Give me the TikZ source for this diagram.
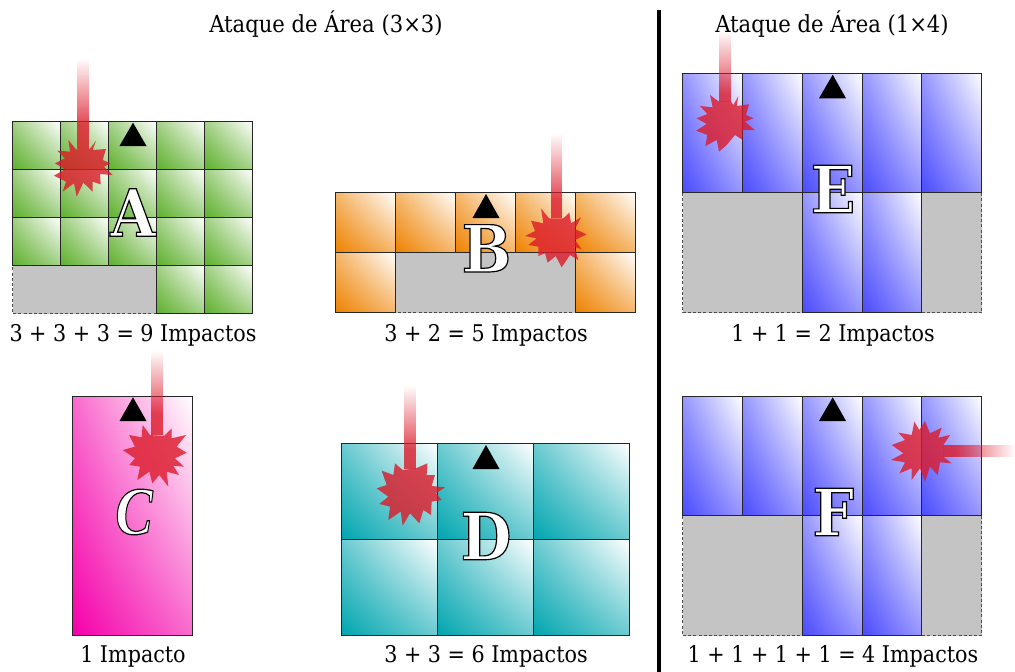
\documentclass[tikz,border=0pt]{standalone}
\usepackage{fontspec}
\setmainfont{DejaVu Serif Condensed}
\newfontfamily\bigserif{DejaVu Serif Condensed}
\newfontfamily\swashserif{Liberation Serif}
\usetikzlibrary{fadings,shadings}
\definecolor{cellgreen}{RGB}{95,175,45}
\definecolor{cellorange}{RGB}{238,130,0}
\definecolor{cellmagenta}{RGB}{245,0,170}
\definecolor{cellteal}{RGB}{0,165,175}
\definecolor{cellblue}{RGB}{75,75,255}
\definecolor{voidgray}{RGB}{196,196,196}
\definecolor{blast}{RGB}{220,25,40}
\tikzfading[name=fadein, top color=transparent!100, middle color=transparent!70, bottom color=transparent!0]
\tikzfading[name=fadeleft, right color=transparent!100, middle color=transparent!70, left color=transparent!0]
\newcommand{\gridcell}[5]{%
  \colorlet{midc}{#1!58!white}%
  \shade[lower left=#1, upper right=white, upper left=midc, lower right=midc]
    (#2,#3) rectangle (#4,#5);
  \draw[cellline] (#2,#3) rectangle (#4,#5);}
\newcommand{\outlined}[1]{\special{pdf:code q 2 Tr 1.2 w 0 0 0 RG 1 1 1 rg}#1\special{pdf:code Q}}
\tikzset{
  cellline/.style={black!85, line width=0.9pt},
  voidbox/.style={fill=voidgray, draw=black!70, line width=0.9pt, dash pattern=on 3pt off 2.2pt},
  marker/.style={fill=black, draw=none},
  burst/.style={fill=blast, fill opacity=0.8, draw=none},
  beam/.style={fill=blast, fill opacity=0.8, draw=none},
  caption/.style={font=\fontsize{23}{26}\selectfont, text=black, inner sep=0pt, anchor=base},
  titletext/.style={font=\fontsize{23.5}{26}\selectfont, text=black, inner sep=0pt, anchor=base},
  bigletter/.style={font=\fontsize{65}{65}\selectfont\bigserif\bfseries, inner sep=0pt, anchor=center},
  swashletter/.style={font=\fontsize{68}{68}\selectfont\swashserif\bfseries\itshape, inner sep=0pt, anchor=center},
}
\begin{document}
\begin{tikzpicture}[x=1pt,y=-1pt]
\useasboundingbox (0,0) rectangle (1015,672);
\begin{scope}[shift={(-0.2,-0.2)}]
% A
\path[voidbox] (13,122) rectangle (253,314);
\foreach \c in {13,61,109,157,205}{\foreach \r in {122,170,218}{
  \pgfmathsetmacro\cc{\c+48}\pgfmathsetmacro\rr{\r+48}\gridcell{cellgreen}{\c}{\rr}{\cc}{\r}}}
\gridcell{cellgreen}{157}{314}{205}{266}
\gridcell{cellgreen}{205}{314}{253}{266}
% B
\path[voidbox] (336,193) rectangle (636,313);
\foreach \c in {336,396,456,516,576}{
  \pgfmathsetmacro\cc{\c+60}\gridcell{cellorange}{\c}{253}{\cc}{193}}
\gridcell{cellorange}{336}{313}{396}{253}
\gridcell{cellorange}{576}{313}{636}{253}
% C
\gridcell{cellmagenta}{73}{636}{193}{397}
% D
\foreach \c in {342,438,534}{\foreach \r in {444,540}{
  \pgfmathsetmacro\cc{\c+96}\pgfmathsetmacro\rr{\r+96}\gridcell{cellteal}{\c}{\rr}{\cc}{\r}}}
% E
\path[voidbox] (683,73.5) rectangle (982,313);
\foreach \c in {683,743,803,863,922}{
  \pgfmathsetmacro\cc{\c==922 ? 982 : \c+60}\gridcell{cellblue}{\c}{193}{\cc}{73.5}}
\gridcell{cellblue}{803}{313}{863}{193}
\gridcell{cellblue}{863}{313}{922}{193}
% F
\path[voidbox] (683,397) rectangle (982,636);
\foreach \c in {683,743,803,863,922}{
  \pgfmathsetmacro\cc{\c==922 ? 982 : \c+60}\gridcell{cellblue}{\c}{516}{\cc}{397}}
\gridcell{cellblue}{803}{636}{863}{516}
\gridcell{cellblue}{863}{636}{922}{516}
\end{scope}
\fill[marker] (119.5,146) -- (133,122.7) -- (146.5,146) -- cycle;
\fill[marker] (472.5,218) -- (486,194) -- (499.5,218) -- cycle;
\fill[marker] (119.5,421) -- (133,397.3) -- (146.5,421) -- cycle;
\fill[marker] (472.5,469) -- (486,445) -- (499.5,469) -- cycle;
\fill[marker] (819,98.3) -- (832.7,74.7) -- (846,98.3) -- cycle;
\fill[marker] (819,421) -- (832.7,397.3) -- (846,421) -- cycle;
% divider
\draw[black, line width=3.6pt] (659,10) -- (659,672);
% big letters
\node[bigletter] (letterA) at (133,212.5) {\outlined{A}};
\node[bigletter] (letterB) at (486.5,248.3) {\outlined{B}};
\node[swashletter, xscale=0.82] (letterC) at (134,512) {\outlined{C}};
\node[bigletter] (letterD) at (486,536) {\outlined{D}};
\node[bigletter] (letterE) at (833,189) {\outlined{E}};
\node[bigletter] (letterF) at (833.3,512) {\outlined{F}};
% beams
\fill[beam, path fading=fadein] (77.3,58) rectangle (89.3,124);
\fill[beam] (77.3,124) rectangle (89.3,149);
\fill[beam, path fading=fadein] (550.7,133) rectangle (562.3,199);
\fill[beam] (550.7,199) rectangle (562.3,218.4);
\fill[beam, path fading=fadein] (151,350) rectangle (162.7,414);
\fill[beam] (151,414) rectangle (162.7,435.2);
\fill[beam, path fading=fadein] (404,385) rectangle (416,449);
\fill[beam] (404,449) rectangle (416,469.4);
\fill[beam, path fading=fadein] (719.3,30) rectangle (731,94);
\fill[beam] (719.3,94) rectangle (731,101.8);
\fill[beam, path fading=fadeleft] (955,445) rectangle (1015,456.7);
\fill[beam] (943.3,445) rectangle (955,456.7);
% bursts (zoom coordinates)
\begin{scope}[shift={(0,50)},scale=1/3]
\fill[burst] (205,270)--(228,298)--(270,296)--(288,272)--(278,300)--(318,297)--(308,330)--(332,340)--(312,350)--(338,375)--(300,372)--(302,403)--(278,395)--(278,425)--(250,398)--(230,440)--(222,400)--(188,425)--(198,395)--(162,377)--(195,358)--(165,340)--(195,325)--(172,302)--(210,305)--cycle;
\end{scope}
\begin{scope}[shift={(325,130)},scale=1/3]
\fill[burst] (648,235)--(672,265)--(715,265)--(733,248)--(738,280)--(768,262)--(750,297)--(785,313)--(750,330)--(770,358)--(748,350)--(760,390)--(735,375)--(710,412)--(692,378)--(668,398)--(660,370)--(640,378)--(640,350)--(610,345)--(635,325)--(600,318)--(630,303)--(618,272)--(655,280)--cycle;
\end{scope}
\begin{scope}[shift={(670,0)},scale=1/3]
\fill[burst] (120,285)--(147,305)--(183,305)--(190,315)--(205,288)--(200,318)--(237,313)--(228,345)--(250,355)--(225,365)--(254,390)--(218,390)--(218,420)--(195,405)--(170,435)--(147,455)--(140,420)--(106,438)--(112,405)--(78,392)--(110,372)--(80,355)--(112,342)--(90,318)--(128,322)--cycle;
\end{scope}
\begin{scope}[shift={(60,350)},scale=1/3]
\fill[burst] (248,225)--(270,255)--(312,258)--(335,235)--(335,265)--(378,255)--(350,290)--(380,308)--(345,325)--(372,350)--(340,347)--(357,375)--(320,365)--(325,410)--(298,375)--(277,400)--(268,365)--(232,390)--(240,350)--(208,345)--(225,325)--(188,300)--(225,290)--(207,255)--(245,262)--cycle;
\end{scope}
\begin{scope}[shift={(330,380)},scale=1/3]
\fill[burst] (195,250)--(218,270)--(258,265)--(292,250)--(290,285)--(315,285)--(305,318)--(345,322)--(318,340)--(335,360)--(305,365)--(303,405)--(280,390)--(268,430)--(240,400)--(218,437)--(212,395)--(175,420)--(180,380)--(148,372)--(175,350)--(140,325)--(170,315)--(155,272)--(190,285)--cycle;
\end{scope}
\begin{scope}[shift={(670,385)},scale=1/3]
\fill[burst] (733,110)--(748,135)--(765,108)--(780,145)--(815,128)--(805,158)--(840,150)--(820,180)--(820,215)--(845,235)--(810,232)--(803,270)--(780,245)--(765,290)--(750,250)--(725,285)--(725,250)--(688,265)--(705,232)--(663,225)--(700,205)--(665,180)--(705,165)--(685,143)--(725,150)--cycle;
\end{scope}
% captions
\node[titletext] (title1) at (326,32.7) {Ataque de Área (3×3)};
\node[titletext] (title2) at (832,32.7) {Ataque de Área (1×4)};
\node[caption] (capA) at (133,341.7) {3 + 3 + 3 = 9 Impactos};
\node[caption] (capB) at (486,341.7) {3 + 2 = 5 Impactos};
\node[caption] (capE) at (833,341.7) {1 + 1 = 2 Impactos};
\node[caption] (capC) at (133,662.7) {1 Impacto};
\node[caption] (capD) at (486,662.7) {3 + 3 = 6 Impactos};
\node[caption] (capF) at (833,662.7) {1 + 1 + 1 + 1 = 4 Impactos};
\end{tikzpicture}
\end{document}
